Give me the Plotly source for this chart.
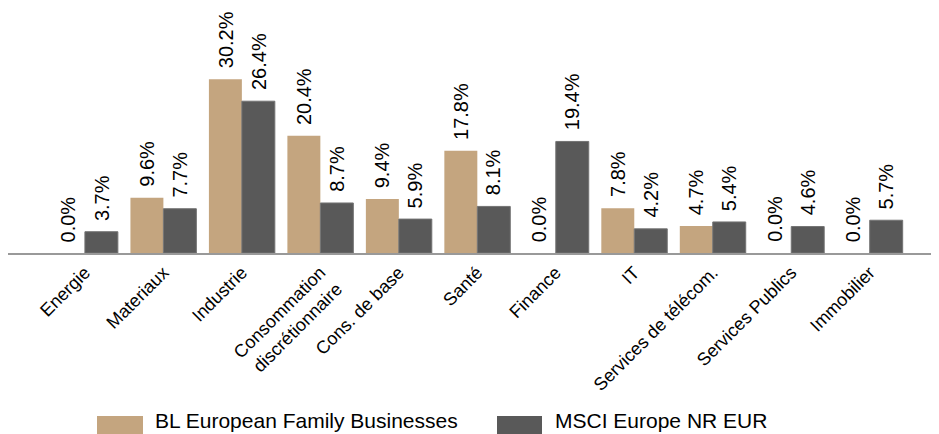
import plotly.graph_objects as go

categories = ["Energie", "Materiaux", "Industrie", "Consommation<br>discrétionnaire",
              "Cons. de base", "Santé", "Finance", "IT", "Services de télécom.",
              "Services Publics", "Immobilier"]
bl_values = [0.0, 9.6, 30.2, 20.4, 9.4, 17.8, 0.0, 7.8, 4.7, 0.0, 0.0]
msci_values = [3.7, 7.7, 26.4, 8.7, 5.9, 8.1, 19.4, 4.2, 5.4, 4.6, 5.7]
series_names = ["BL European Family Businesses", "MSCI Europe NR EUR"]

tan = "#c4a57f"
dark = "#595959"
font = "Liberation Sans, Arial, sans-serif"

# the page body adds an 8px margin, so the figure is sized to fit the window
OFF = 8
W, H = 939 - OFF, 434 - OFF
ML, MR, MT, MB = 0, 1, 0, 181
PW, PH = W - ML - MR, H - MT - MB
BAR_OFF = 0.21

fig = go.Figure()
series = [(series_names[0], bl_values, tan, "rgba(0,0,0,0)"),
          (series_names[1], msci_values, dark, "#737373")]
for k, (name, vals, col, lc) in enumerate(series):
    fig.add_trace(go.Bar(
        x=list(range(len(categories))), y=vals, name=name,
        marker=dict(color=col, line=dict(width=1, color=lc)),
        showlegend=False,
    ))
    off = -BAR_OFF if k == 0 else BAR_OFF
    for i, v in enumerate(vals):
        fig.add_annotation(
            x=i + off, y=v, xref="x", yref="y", text=f"{v:.1f}%",
            textangle=-90, showarrow=False, xanchor="center", yanchor="bottom",
            yshift=9, font=dict(family=font, size=20, color="black"),
        )

def px_to_paper_x(px):
    return (px - OFF - ML) / PW

def py_to_paper_y(py):
    return (MT + PH - (py - OFF)) / PH

legend_items = [(series_names[0], tan, 97, 143, 153), (series_names[1], dark, 497, 542, 553)]
for name, col, x0, x1, tx in legend_items:
    fig.add_shape(type="rect", xref="paper", yref="paper",
                  x0=px_to_paper_x(x0), x1=px_to_paper_x(x1),
                  y0=py_to_paper_y(436), y1=py_to_paper_y(416),
                  fillcolor=col, line=dict(width=0))
    fig.add_annotation(xref="paper", yref="paper", x=px_to_paper_x(tx), y=py_to_paper_y(434),
                       xanchor="left", yanchor="bottom", text=name, showarrow=False,
                       font=dict(family=font, size=21, color="black"))

fig.update_layout(
    width=W, height=H,
    margin=dict(l=ML, r=MR, t=MT, b=MB, autoexpand=False),
    plot_bgcolor="white", paper_bgcolor="white",
    barmode="group", bargap=0.16, bargroupgap=0,
    font=dict(family=font, color="black"),
    showlegend=False,
    xaxis=dict(
        tickmode="array", tickvals=list(range(len(categories))), ticktext=categories,
        tickangle=-45, tickfont=dict(size=18, family=font, color="black"),
        range=[-0.98, 10.87], showline=True, linecolor="#999999", linewidth=2,
        ticks="", showgrid=False, zeroline=False, automargin=False,
    ),
    yaxis=dict(range=[0, PH / 5.75], visible=False, showgrid=False, zeroline=False),
)

fig.write_html("out.html")
